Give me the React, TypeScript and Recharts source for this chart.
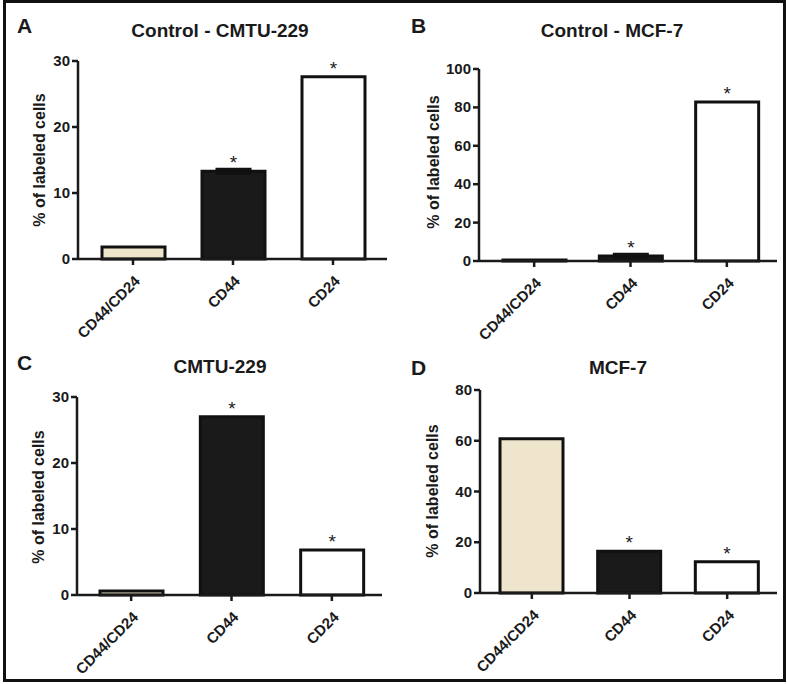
import { BarChart, Bar, XAxis, YAxis, Cell, LabelList, ErrorBar } from 'recharts';

// categories shared by all four panels
const categories = ['CD44/CD24', 'CD44', 'CD24'];
const barFills = ['#efe5cd', '#1a1a1a', '#ffffff'];

// A - Control CMTU-229
const controlCmtuValues = [1.8, 13.3, 27.6];
const controlCmtuErrors = [0, 0.3, 0];
const controlCmtuStars = [false, true, true];
const controlCmtuTicks = [0, 10, 20, 30];

// B - Control MCF-7
const controlMcfValues = [0.5, 2.6, 82.8];
const controlMcfErrors = [0, 0.9, 0];
const controlMcfStars = [false, true, true];
const controlMcfTicks = [0, 20, 40, 60, 80, 100];

// C - CMTU-229
const cmtuValues = [0.6, 27.0, 6.8];
const cmtuErrors = [0, 0, 0];
const cmtuStars = [false, true, true];
const cmtuTicks = [0, 10, 20, 30];

// D - MCF-7
const mcfValues = [60.8, 16.5, 12.3];
const mcfErrors = [0, 0, 0];
const mcfStars = [false, true, true];
const mcfTicks = [0, 20, 40, 60, 80];

const W = 394;
const H = 342;
const FONT = '"Liberation Sans", Arial, sans-serif';
const INK = '#1a1a1a';

const XTick = ({ x, y, payload }: any) => {
    const px = x + 8;
    const py = y + 15;
    return (
        <text x={px} y={py} textAnchor="end" transform={`rotate(-45, ${px}, ${py})`}
            fontSize={15} fontWeight="bold" fill={INK} fontFamily={FONT}>
            {payload.value}
        </text>
    );
};

const YTick = ({ x, y, payload }: any) => (
    <text x={x} y={y} dy={5} textAnchor="end" fontSize={15} fontWeight="bold" fill={INK} fontFamily={FONT}>
        {payload.value}
    </text>
);

const Star = ({ x, y, width, value }: any) =>
    value ? (
        <text x={x + width / 2} y={y - 2} textAnchor="middle" fontSize={19} fill={INK} fontFamily={FONT}>
            {value}
        </text>
    ) : null;

function Panel(props: any) {
    const { letter, title, values, errors, stars, ticks, left, top, axisX, plotTop, plotBottom, axisRight, padL, padR,
        titleX, titleY, letterY, labelX, labelY, showErr } = props;

    const data = categories.map((c, i) => ({
        name: c,
        value: values[i],
        err: errors[i],
        star: stars[i] ? '*' : '',
    }));

    return (
        <div style={{ position: 'absolute', left, top, width: W, height: H }}>
            <BarChart width={W} height={H} data={data} style={{ fontFamily: FONT }}
                margin={{ top: plotTop, right: W - axisRight, bottom: H - plotBottom - 60, left: 0 }}>
                <XAxis dataKey="name" height={60} tick={<XTick />} tickSize={6} interval={0}
                    padding={{ left: padL, right: padR }}
                    axisLine={{ stroke: INK, strokeWidth: 2.5 }} tickLine={{ stroke: INK, strokeWidth: 2.5 }} />
                <YAxis width={axisX} domain={[0, ticks[ticks.length - 1]]} ticks={ticks} interval={0} tickSize={6}
                    tick={<YTick />}
                    axisLine={{ stroke: INK, strokeWidth: 2.5 }} tickLine={{ stroke: INK, strokeWidth: 2.5 }} />
                <Bar dataKey="value" barSize={63} stroke="#111" strokeWidth={3} isAnimationActive={false}>
                    {data.map((d, i) => (
                        <Cell key={d.name} fill={barFills[i]} />
                    ))}
                    {showErr && <ErrorBar dataKey="err" direction="y" width={18} stroke="#111" strokeWidth={3} />}
                    <LabelList dataKey="star" position="top" content={<Star />} />
                </Bar>
            </BarChart>
            <svg width={W} height={H} style={{ position: 'absolute', left: 0, top: 0, pointerEvents: 'none' }}
                fontFamily={FONT} fill={INK}>
                <text x={17} y={letterY} fontSize={21} fontWeight="bold">{letter}</text>
                <text x={titleX} y={titleY} fontSize={19} fontWeight="bold" textAnchor="middle">{title}</text>
                <text x={labelX} y={labelY} fontSize={16} fontWeight="bold" textAnchor="middle"
                    dominantBaseline="central" transform={`rotate(-90, ${labelX}, ${labelY})`}>
                    % of labeled cells
                </text>
            </svg>
        </div>
    );
}

export default function App() {
    return (
        <div style={{ position: 'absolute', left: 0, top: 0, width: 787, height: 684, background: '#fff' }}>
            <div style={{ position: 'absolute', left: 3, top: 0, width: 783, height: 682, boxSizing: 'border-box',
                border: '3px solid #111' }} />
            <Panel letter="A" title="Control - CMTU-229" values={controlCmtuValues} errors={controlCmtuErrors}
                stars={controlCmtuStars} ticks={controlCmtuTicks} showErr left={0} top={0}
                axisX={78} plotTop={61} plotBottom={259} axisRight={387} padL={5} padR={4}
                titleX={220} titleY={37} letterY={33} labelX={39} labelY={160} />
            <Panel letter="B" title="Control - MCF-7" values={controlMcfValues} errors={controlMcfErrors}
                stars={controlMcfStars} ticks={controlMcfTicks} showErr left={394} top={0}
                axisX={85} plotTop={69} plotBottom={261} axisRight={383} padL={7} padR={2}
                titleX={218} titleY={37} letterY={33} labelX={39} labelY={162} />
            <Panel letter="C" title="CMTU-229" values={cmtuValues} errors={cmtuErrors}
                stars={cmtuStars} ticks={cmtuTicks} left={0} top={342}
                axisX={77} plotTop={55} plotBottom={253} axisRight={382} padL={4} padR={0}
                titleX={220} titleY={31} letterY={28} labelX={38} labelY={155} />
            <Panel letter="D" title="MCF-7" values={mcfValues} errors={mcfErrors}
                stars={mcfStars} ticks={mcfTicks} left={394} top={342}
                axisX={86} plotTop={48} plotBottom={251} axisRight={383} padL={3} padR={1}
                titleX={224} titleY={32} letterY={33} labelX={38} labelY={149} />
        </div>
    );
}
